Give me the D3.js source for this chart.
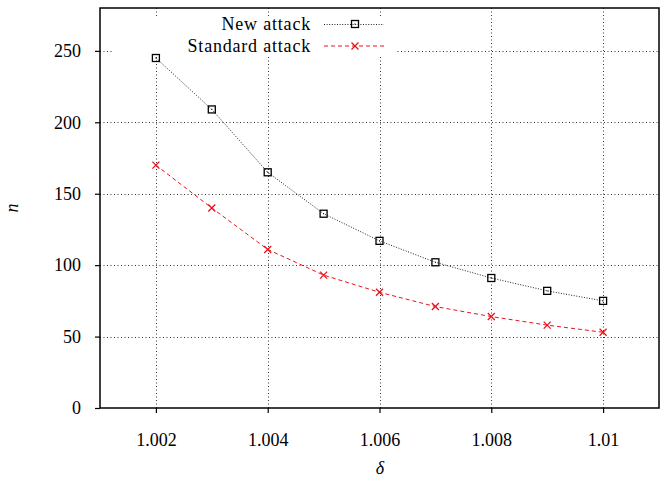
<!DOCTYPE html>
<html><head><meta charset="utf-8">
<script src="https://cdn.jsdelivr.net/npm/d3@7"></script>
<style>body{margin:0;background:#fff}svg{display:block}text{font-family:"Liberation Serif","Times New Roman",Tinos,"Nimbus Roman","Nimbus Roman No9 L","DejaVu Serif","Noto Serif",FreeSerif,Times,serif;fill:#000}</style>
</head><body><svg id="c" width="664" height="482"></svg>
<script>
const deltas = [1.002,1.003,1.004,1.005,1.006,1.007,1.008,1.009,1.010];
const newAttack = [245,209,165,136,117,102,91,82,75];
const standardAttack = [170,140,111,93,81,71,64,58,53];
const xTicks = [1.002,1.004,1.006,1.008,1.010];
const xTickLabels = ["1.002","1.004","1.006","1.008","1.01"];
const yTicks = [0,50,100,150,200,250];
const seriesNames = ["New attack","Standard attack"];

const svg = d3.select("#c");
const L=100,R=659,T=8,B=408;
const x = d3.scaleLinear().domain([1.001,1.011]).range([L,R]);
const y = d3.scaleLinear().domain([0,280]).range([B,T]);

// grid
const grid = svg.append("g").attr("stroke","#333").attr("stroke-width",1).attr("stroke-dasharray","1 2.5");
grid.selectAll(".gx").data(xTicks).join("line")
  .attr("x1",d=>Math.round(x(d))+0.5).attr("x2",d=>Math.round(x(d))+0.5).attr("y1",T).attr("y2",B);
grid.selectAll(".gy").data(yTicks.filter(d=>d>0)).join("line")
  .attr("y1",d=>Math.round(y(d))+0.5).attr("y2",d=>Math.round(y(d))+0.5).attr("x1",L).attr("x2",R);

// axes
const xAxis = svg.append("g").attr("transform",`translate(0,${B})`)
  .call(d3.axisBottom(x).tickValues(xTicks).tickFormat((d,i)=>xTickLabels[i]).tickSize(5).tickPadding(20));
const yAxis = svg.append("g").attr("transform",`translate(${L},0)`)
  .call(d3.axisLeft(y).tickValues(yTicks).tickSize(5).tickPadding(14));
[xAxis,yAxis].forEach(a=>{
  a.attr("font-family",null).attr("font-size",null);
  a.select(".domain").remove();
  a.selectAll("line").attr("stroke","#000").attr("stroke-width",1.2);
  a.selectAll("text").style("font-size","18px").attr("fill","#000");
});

// legend box
svg.append("rect").attr("x",114).attr("y",16).attr("width",282).attr("height",41).attr("fill","#fff");

const line = d3.line().x((d,i)=>x(deltas[i])).y(d=>y(d));
svg.append("path").datum(newAttack).attr("d",line).attr("fill","none")
  .attr("stroke","#222").attr("stroke-width",1).attr("stroke-dasharray","1 1.6");
svg.append("path").datum(standardAttack).attr("d",line).attr("fill","none")
  .attr("stroke","#e8141c").attr("stroke-width",1).attr("stroke-dasharray","4 3");

function square(g,cx,cy){
  g.append("rect").attr("x",cx-3.5).attr("y",cy-3.5).attr("width",7).attr("height",7)
   .attr("fill","none").attr("stroke","#000").attr("stroke-width",1.3);
  g.append("rect").attr("x",cx-0.5).attr("y",cy-0.5).attr("width",1).attr("height",1).attr("fill","#000");
}
function cross(g,cx,cy){
  g.append("path").attr("d",`M${cx-3.5},${cy-3.5}L${cx+3.5},${cy+3.5}M${cx-3.5},${cy+3.5}L${cx+3.5},${cy-3.5}`)
   .attr("stroke","#e8141c").attr("stroke-width",1.3).attr("fill","none");
}
const pts = svg.append("g");
newAttack.forEach((v,i)=>square(pts,x(deltas[i]),y(v)));
standardAttack.forEach((v,i)=>cross(pts,x(deltas[i]),y(v)));

// legend
const lg = svg.append("g");
const rows=[24,46];
lg.selectAll("text").data(seriesNames).join("text")
  .attr("x",311).attr("y",(d,i)=>rows[i]+6).attr("text-anchor","end")
  .style("font-size","18px").style("letter-spacing","0.8px").text(d=>d);
lg.append("line").attr("x1",324).attr("x2",384).attr("y1",rows[0]+0.5).attr("y2",rows[0]+0.5)
  .attr("stroke","#222").attr("stroke-width",1).attr("stroke-dasharray","1 1.6");
square(lg,355,rows[0]);
lg.append("line").attr("x1",324).attr("x2",384).attr("y1",rows[1]).attr("y2",rows[1])
  .attr("stroke","#e8141c").attr("stroke-width",1).attr("stroke-dasharray","4 3");
cross(lg,355,rows[1]);

// border
svg.append("rect").attr("x",L).attr("y",T).attr("width",R-L).attr("height",B-T)
  .attr("fill","none").attr("stroke","#000").attr("stroke-width",1.5);

// axis labels
svg.append("text").attr("transform","translate(12,208) rotate(-90)").attr("text-anchor","middle")
  .attr("dominant-baseline","central").style("font-size","18px").style("font-style","italic").text("n");
svg.append("text").attr("x",380).attr("y",468).attr("text-anchor","middle")
  .attr("dominant-baseline","central").style("font-size","18px").style("font-style","italic").text("δ");
</script></body></html>
